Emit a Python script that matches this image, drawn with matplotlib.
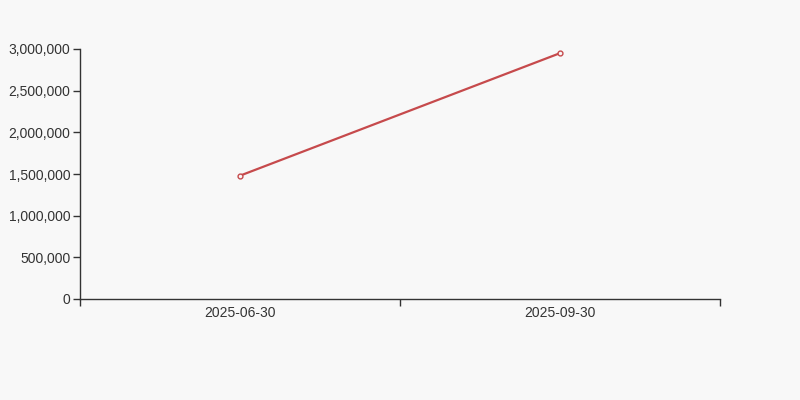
import matplotlib

matplotlib.use("Agg")

import matplotlib.pyplot as plt
from matplotlib.ticker import FuncFormatter

dates = ["2025-06-30", "2025-09-30"]
values = [1480000, 2950000]
y_ticks = [0, 500000, 1000000, 1500000, 2000000, 2500000, 3000000]

BG = "#f8f8f8"
AXIS = "#333333"
LINE = "#c64a4c"

plt.rcParams["font.family"] = ["Liberation Sans", "DejaVu Sans"]

fig = plt.figure(figsize=(8, 4), dpi=100, facecolor=BG)
ax = fig.add_axes([0.1, 0.2525, 0.8, 0.625], facecolor=BG)

x = list(range(len(dates)))
ax.plot(x, values, color=LINE, linewidth=1.6, marker="o", markersize=3.5,
        markerfacecolor=BG, markeredgecolor=LINE, markeredgewidth=1, zorder=3)

ax.set_xlim(-0.5, len(dates) - 0.5)
ax.set_ylim(0, 3000000)

# category axis: ticks on boundaries, labels in the middle of each band
ax.set_xticks([i - 0.5 for i in range(len(dates) + 1)])
ax.set_xticklabels([])
ax.set_xticks(x, minor=True)
ax.set_xticklabels(dates, minor=True)
ax.tick_params(axis="x", which="major", direction="out", length=5, width=1, color=AXIS)
ax.tick_params(axis="x", which="minor", length=0, pad=5, labelsize=10, labelcolor=AXIS)

ax.set_yticks(y_ticks)
ax.yaxis.set_major_formatter(FuncFormatter(lambda v, _: f"{v:,.0f}"))
ax.tick_params(axis="y", direction="out", length=5, width=1, color=AXIS,
               pad=2, labelsize=10, labelcolor=AXIS)

for side in ("top", "right"):
    ax.spines[side].set_visible(False)
for side in ("left", "bottom"):
    ax.spines[side].set_color(AXIS)
    ax.spines[side].set_linewidth(1)

fig.savefig("out.png", dpi=100, facecolor=BG)
